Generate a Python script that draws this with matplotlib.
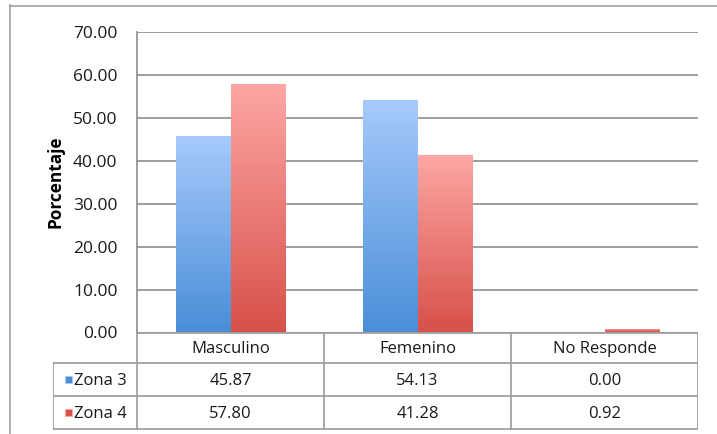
import matplotlib
matplotlib.use("Agg")
import matplotlib.pyplot as plt
import numpy as np
from matplotlib.colors import LinearSegmentedColormap
from matplotlib.patches import Rectangle

categories = ["Masculino", "Femenino", "No Responde"]
series_names = ["Zona 3", "Zona 4"]
zona3 = [45.87, 54.13, 0.00]
zona4 = [57.80, 41.28, 0.92]
yticks = [0, 10, 20, 30, 40, 50, 60, 70]
ylabel = "Porcentaje"

FONT = "Open Sans"
plt.rcParams["font.family"] = [FONT, "DejaVu Sans"]

W, H = 717, 434
fig = plt.figure(figsize=(W / 100, H / 100), dpi=100)

def fx(px):
    return px / W

def fy(py):
    return 1 - py / H

# outer chart border
fig.add_artist(plt.Line2D([fx(9.5), fx(9.5)], [fy(5), fy(434)], color="#a0a0a0", lw=1.2))
fig.add_artist(plt.Line2D([fx(9.5), fx(717)], [fy(5.5), fy(5.5)], color="#a0a0a0", lw=1.2))

PL, PR, PT, PB = 137, 698, 32, 332.5
ax = fig.add_axes([fx(PL), fy(PB), fx(PR) - fx(PL), fy(PT) - fy(PB)])

grad_colors = [
    ("#a7cafc", "#4a8ed8"),
    ("#fda7a4", "#d8504a"),
]
bw = 0.29
x = np.arange(len(categories))
for si, vals in enumerate([zona3, zona4]):
    offs = (si - 0.5) * bw
    bars = ax.bar(x + offs, vals, width=bw, color="none", edgecolor="none", zorder=3)
    cmap = LinearSegmentedColormap.from_list("g%d" % si, [grad_colors[si][1], grad_colors[si][0]])
    for b in bars:
        h = b.get_height()
        if h <= 0:
            continue
        grad = np.linspace(0, 1, 256).reshape(-1, 1)
        im = ax.imshow(grad, cmap=cmap, aspect="auto", origin="lower",
                       extent=[b.get_x(), b.get_x() + b.get_width(), 0, h], zorder=3)
        im.set_clip_path(b)

ax.set_xlim(-0.5, len(categories) - 0.5)
ax.set_ylim(0, 70)
ax.set_yticks(yticks)
ax.set_yticklabels(["%.2f" % t for t in yticks], fontsize=12.5, color="#1a1a1a")
ax.tick_params(axis="y", length=0, pad=14)
ax.set_xticks([])
ax.yaxis.grid(True, color="#8c8c8c", lw=1.2)
ax.set_axisbelow(True)
for s in ["top", "right", "bottom"]:
    ax.spines[s].set_visible(False)
ax.spines["left"].set_color("#8c8c8c")
ax.spines["left"].set_linewidth(1.2)
ax.set_ylabel(ylabel, fontsize=12.4, fontweight="bold", labelpad=6)

# data table
TL, TR, TT, TB = 52.5, 698, 332.5, 429
tax = fig.add_axes([fx(TL), fy(TB + 2), fx(TR) - fx(TL), fy(TT) - fy(TB + 2)])
tax.set_xlim(TL, TR)
tax.set_ylim(TB + 2, TT)
tax.axis("off")
lc = "#9a9a9a"
col_edges = [PL + (PR - PL) * i / len(categories) for i in range(len(categories) + 1)]
row_edges = [TT, 363, 396, TB]
tax.plot([PL, PR], [row_edges[0], row_edges[0]], color=lc, lw=1.2)
tax.plot([TL, PR], [row_edges[1], row_edges[1]], color=lc, lw=1.2)
tax.plot([TL, PR], [row_edges[2], row_edges[2]], color=lc, lw=1.2)
tax.plot([TL, PR], [row_edges[3], row_edges[3]], color=lc, lw=1.2)
for ce in col_edges:
    tax.plot([ce, ce], [row_edges[0], row_edges[3]], color=lc, lw=1.2)
tax.plot([TL, TL], [row_edges[1], row_edges[3]], color=lc, lw=1.2)

for i, c in enumerate(categories):
    cx = (col_edges[i] + col_edges[i + 1]) / 2
    tax.text(cx, (row_edges[0] + row_edges[1]) / 2 + 1, c, ha="center", va="center",
             fontsize=12, color="#1a1a1a")
for r, (name, vals) in enumerate(zip(series_names, [zona3, zona4])):
    cy = (row_edges[r + 1] + row_edges[r + 2]) / 2 + 1
    c1, c0 = grad_colors[r]
    tax.add_patch(Rectangle((TL + 12.5, cy - 5), 7, 7, facecolor=c0, edgecolor=c1, lw=0.6))
    tax.text(TL + 21, cy, name, ha="left", va="center", fontsize=12, color="#1a1a1a")
    for i, v in enumerate(vals):
        cx = (col_edges[i] + col_edges[i + 1]) / 2
        tax.text(cx, cy, "%.2f" % v, ha="center", va="center", fontsize=12, color="#1a1a1a")

fig.savefig("out.png", dpi=100)
